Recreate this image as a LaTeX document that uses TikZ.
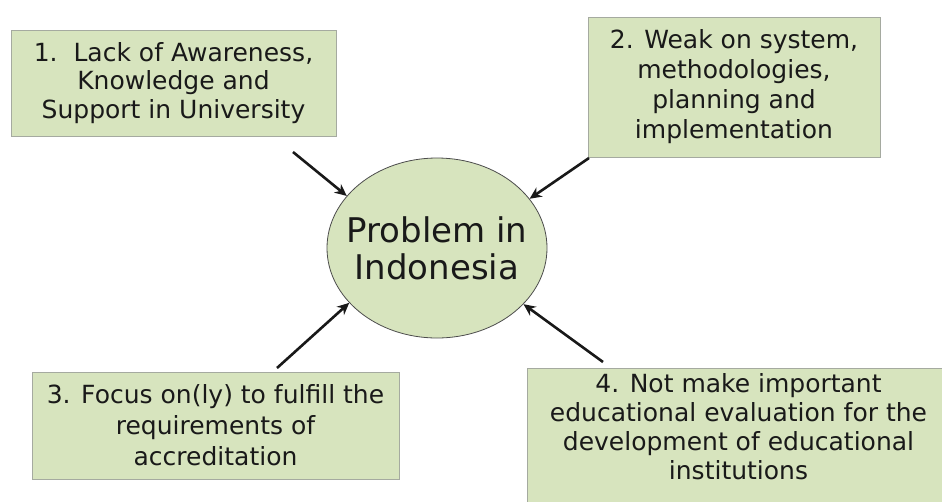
\documentclass[tikz,border=0pt]{standalone}
\usepackage{fontspec}
\setmainfont{DejaVu Sans}
\usetikzlibrary{arrows.meta,shapes.geometric}
\definecolor{boxfill}{RGB}{215,228,190}
\definecolor{boxline}{RGB}{165,170,160}
\definecolor{txt}{RGB}{25,25,25}
\tikzset{
  probbox/.style={draw=boxline, line width=0.8pt, fill=boxfill, text=txt,
    align=center, inner sep=0pt, font=\fontsize{25}{28.5}\selectfont},
  arr/.style={line width=2.6pt, draw=black!90, -{Stealth[length=12pt,width=11pt]}}
}
\begin{document}
\begin{tikzpicture}[x=1pt,y=-1pt]
\useasboundingbox (0,0) rectangle (942,501);
\clip (0,0) rectangle (942,501);
% boxes
\node[probbox, minimum width=325pt, minimum height=106pt] (b1) at (173.5,83)
  {1.\ \ Lack of Awareness,\\Knowledge and\\Support in University};
\node[probbox, minimum width=292pt, minimum height=140pt, font=\fontsize{25}{30}\selectfont] (b2) at (734,87)
  {2. Weak on system,\\methodologies,\\planning and\\implementation};
\node[probbox, minimum width=367pt, minimum height=107pt, font=\fontsize{25}{31}\selectfont] (b3) at (215.5,425.5)
  {3. Focus on(ly) to fulfill the\\requirements of\\accreditation};
\node[probbox, minimum width=425pt, minimum height=170pt, anchor=north west] (b4) at (527,368) {};
\node[text=txt, align=center, font=\fontsize{25}{29}\selectfont] (t4) at (738.5,427)
  {4. Not make important\\educational evaluation for the\\development of educational\\institutions};
% ellipse
\node[ellipse, draw=black!70, line width=0.8pt, fill=boxfill, minimum width=220pt,
  minimum height=180pt, inner sep=0pt] (e) at (437,248) {};
\node[text=txt, align=center, inner sep=0pt,
  font=\fontsize{34}{37}\selectfont] (et) at (e.center) {Problem in\\Indonesia};
% arrow start points
\coordinate (s1) at (293,152);
\coordinate (s2) at (589,158);
\coordinate (s3) at (277,368);
\coordinate (s4) at (603,362);
\draw[arr] (s1) -- (e.150);
\draw[arr] (s2) -- (e.28);
\draw[arr] (s3) -- (e.212);
\draw[arr] (s4) -- (e.327);
\end{tikzpicture}
\end{document}
